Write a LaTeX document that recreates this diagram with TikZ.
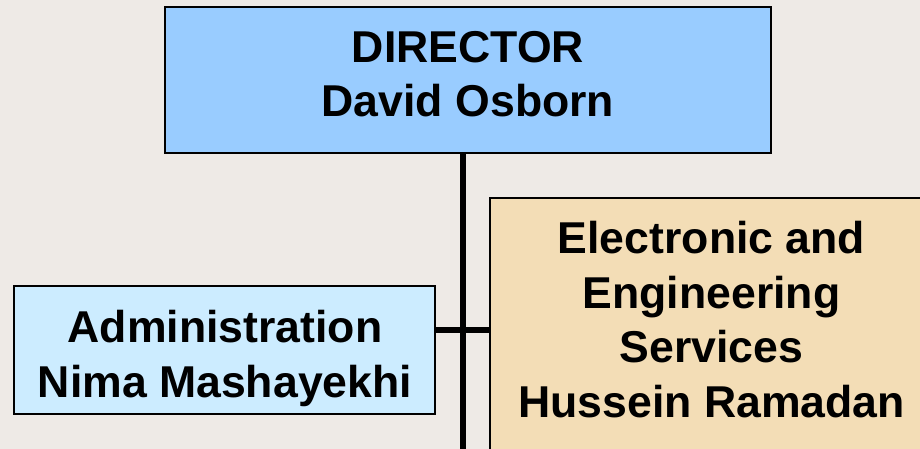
\documentclass[tikz,border=0pt]{standalone}
\usepackage{fontspec}
\setmainfont{Liberation Sans}
\definecolor{bgc}{HTML}{EEEAE6}
\definecolor{dirc}{HTML}{99CCFF}
\definecolor{admc}{HTML}{CCECFF}
\definecolor{engc}{HTML}{F3DDB6}
\begin{document}
\begin{tikzpicture}[x=1pt,y=-1pt,
 box/.style={draw=black, line width=2pt, inner sep=0pt},
 lbl/.style={font=\fontsize{44.6}{54.6}\selectfont\bfseries, align=center, inner sep=0pt},
 conn/.style={line width=6.5pt, draw=black}]
\clip (0,0) rectangle (920,449);
\fill[bgc] (0,0) rectangle (920,449);
% connectors
\node[box, fill=dirc, minimum width=606pt, minimum height=146pt] (dir) at (468,80) {};
\coordinate (top) at (463,153);
\coordinate (bot) at (463,460);
\draw[conn] (top) -- (bot);
\node[box, fill=admc, minimum width=421pt, minimum height=128pt] (adm) at (224.5,350) {};
\node[box, fill=engc, minimum width=443pt, minimum height=290pt] (eng) at (711.5,343) {};
\coordinate (hl) at (adm.east |- 0,330);
\coordinate (hr) at (eng.west |- 0,330);
\draw[conn] (hl) -- (hr);
% texts
\node[lbl] (dirt) at (468,74) {DIRECTOR\\David Osborn};
\node[lbl] (admt) at (225,358.7) {Administration\\Nima Mashayekhi};
\node[lbl] (engt) at (711.5,319.7) {Electronic and\\Engineering\\Services\\Hussein Ramadan};
\end{tikzpicture}
\end{document}
